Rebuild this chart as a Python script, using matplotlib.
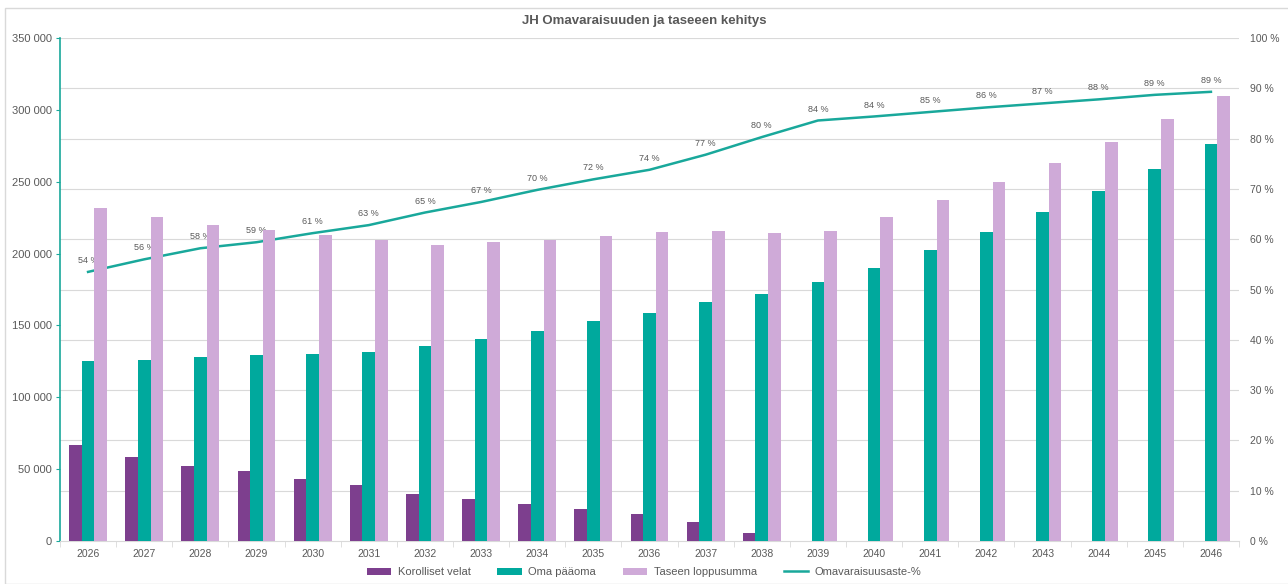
"""
JH Omavaraisuuden ja taseeen kehitys - bars for debt, equity and balance,
plus equity ratio line on the right axis.
"""
import matplotlib.pyplot as plt
from matplotlib.patches import Rectangle
from matplotlib.ticker import FuncFormatter, MultipleLocator
import numpy as np

plt.rcParams['font.family'] = ['Liberation Sans', 'DejaVu Sans']

years = list(range(2026, 2047))
korolliset_velat = [66800, 58600, 52200, 48500, 43100, 38700, 32900, 29000, 25500,
                    22500, 18800, 13400, 5400, 0, 0, 0, 0, 0, 0, 0, 0]
oma_paaoma = [125200, 126000, 128000, 129400, 130100, 131500, 135700, 140500, 146100,
              153000, 158600, 166300, 171900, 180200, 189700, 202500, 215000, 228900,
              243700, 259000, 276200]
taseen_loppusumma = [231700, 225400, 219900, 216400, 212900, 209400, 206000, 208000,
                     209400, 212200, 215000, 215700, 214300, 215700, 225200, 237300,
                     249600, 262800, 277600, 293400, 309600]
omavaraisuusaste = [53.5, 56.0, 58.2, 59.4, 61.2, 62.8, 65.3, 67.4, 69.8, 71.9, 73.8,
                    76.8, 80.3, 83.6, 84.4, 85.3, 86.2, 87.0, 87.8, 88.7, 89.3]

c_velat = '#7d3f8e'
c_oma = '#00a99d'
c_tase = '#cfaad8'
c_line = '#19a89b'
c_text = '#595959'
c_grid = '#d9d9d9'

fig = plt.figure(figsize=(12.88, 5.84), dpi=100)
ax = fig.add_axes([60 / 1288, 1 - 541 / 584, (1239 - 60) / 1288, (541 - 38) / 584])
ax2 = ax.twinx()

x = np.arange(len(years))
w = 0.225
ax.bar(x - w, korolliset_velat, w, color=c_velat, label='Korolliset velat', zorder=3)
ax.bar(x, oma_paaoma, w, color=c_oma, label='Oma pääoma', zorder=3)
ax.bar(x + w, taseen_loppusumma, w, color=c_tase, label='Taseen loppusumma', zorder=3)

ax2.plot(x, omavaraisuusaste, color=c_line, lw=1.8, label='Omavaraisuusaste-%', zorder=4)
for xi, v in zip(x, omavaraisuusaste):
    ax2.annotate(f'{round(v)} %', (xi, v), xytext=(0, 5), textcoords='offset points',
                 ha='center', va='bottom', fontsize=6.5, color=c_text)

ax.set_xlim(-0.5, len(years) - 0.5)
ax.set_ylim(0, 350000)
ax2.set_ylim(0, 100)
ax.yaxis.set_major_locator(MultipleLocator(50000))
ax.yaxis.set_major_formatter(FuncFormatter(lambda v, p: f'{int(v):,}'.replace(',', ' ')))
ax2.yaxis.set_major_locator(MultipleLocator(10))
ax2.yaxis.set_major_formatter(FuncFormatter(lambda v, p: f'{int(v)} %'))

# gridlines follow the percentage axis
ax.set_zorder(ax2.get_zorder() + 1)
ax.patch.set_visible(False)
for g in range(10, 101, 10):
    ax2.axhline(g, color=c_grid, lw=0.8, zorder=0)

ax.set_xticks(x)
ax.set_xticklabels(years)
ax.set_xticks(np.arange(-0.5, len(years), 1), minor=True)
ax.tick_params(axis='x', which='major', length=0, pad=6, labelsize=7.5, labelcolor=c_text)
ax.tick_params(axis='x', which='minor', length=4, color=c_grid)
ax.tick_params(axis='y', length=3, color=c_line, labelsize=8, labelcolor=c_text, pad=3)
ax2.tick_params(axis='y', length=0, labelsize=7.5, labelcolor=c_text, pad=8)

for sp in ['top', 'right']:
    ax.spines[sp].set_visible(False)
ax.spines['left'].set_color(c_line)
ax.spines['left'].set_linewidth(1.2)
ax.spines['bottom'].set_color(c_grid)
for sp in ax2.spines.values():
    sp.set_visible(False)

fig.text(0.5, 1 - 21 / 584, 'JH Omavaraisuuden ja taseeen kehitys', ha='center', va='center',
         fontsize=9.5, fontweight='bold', color=c_text)

h1, l1 = ax.get_legend_handles_labels()
h2, l2 = ax2.get_legend_handles_labels()
fig.legend(h1 + h2, l1 + l2, loc='center', bbox_to_anchor=(0.5, 1 - 572 / 584), ncol=4,
           frameon=False, fontsize=8, labelcolor=c_text, handlelength=2.2, handleheight=0.6,
           columnspacing=2.4, handletextpad=0.6)

fig.patches.append(Rectangle((5 / 1288, 0), 1, 1 - 8 / 584, transform=fig.transFigure,
                             fill=False, edgecolor='#d9d9d9', lw=1))

fig.savefig('out.png', dpi=100)
